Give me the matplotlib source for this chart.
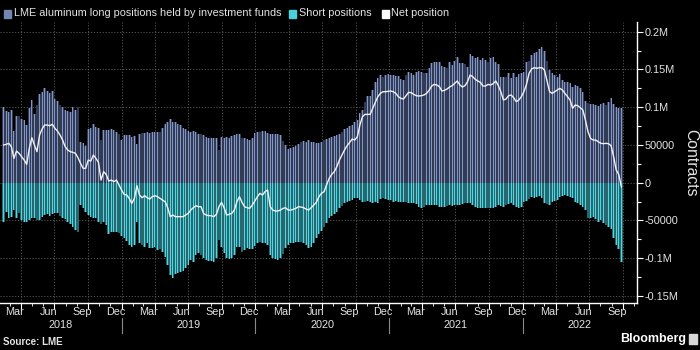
import numpy as np
import pandas as pd
import matplotlib
matplotlib.use("Agg")
import matplotlib.pyplot as plt
import matplotlib.dates as mdates
from matplotlib import font_manager as fm
from matplotlib.patches import Rectangle
from matplotlib.transforms import blended_transform_factory

# ---------------- data (thousands of contracts, weekly) ----------------
long_k = [
    100.7, 94.9, 93.2, 95.8, 68.4, 88.7, 88.3, 83.9, 83.0, 76.4,
    99.3, 109.5, 90.5, 102.9, 117.0, 120.5, 124.9, 121.4, 118.3, 121.4,
    110.8, 108.2, 102.9, 100.7, 96.2, 94.9, 94.0, 99.8, 96.2, 100.7,
    54.3, 52.1, 49.0, 71.1, 72.8, 78.1, 74.2, 72.0, 56.5, 69.8,
    69.8, 69.8, 71.1, 69.8, 67.5, 64.0, 56.5, 63.1, 63.1, 63.1,
    60.9, 62.3, 50.8, 64.0, 65.3, 66.2, 66.7, 65.3, 66.7, 66.7,
    67.5, 66.7, 72.8, 77.3, 80.8, 83.9, 80.8, 79.9, 77.3, 76.4,
    72.0, 71.1, 68.4, 67.5, 68.4, 67.5, 64.0, 64.0, 63.1, 60.5,
    58.7, 59.6, 59.6, 59.6, 43.3, 60.9, 59.6, 60.9, 59.6, 62.3,
    63.1, 64.0, 64.0, 59.6, 58.7, 57.8, 56.5, 58.7,
    65.3, 66.7, 67.5, 68.4, 68.4, 65.3, 64.0, 64.9, 64.9, 64.0,
    63.1, 55.2, 49.9, 44.6, 45.5, 47.2, 49.0, 51.7, 54.3, 55.2,
    54.3, 56.5, 54.3, 53.4, 52.1, 52.5, 53.4, 56.1, 57.8, 59.6,
    60.9, 62.3, 63.1, 64.0, 67.5, 71.1, 72.8, 74.6, 76.4, 79.9,
    83.0, 91.8, 96.2, 107.3, 114.3, 115.2, 122.7, 133.8,
    138.2, 142.6, 140.4, 142.6, 143.5, 142.6, 142.6, 141.7, 141.7, 137.3,
    136.0, 142.6, 147.0, 144.8, 142.6, 147.0, 147.9, 146.1, 144.8, 144.8,
    151.4, 158.1, 159.4, 160.3, 160.3, 155.0, 153.6, 151.4, 159.4, 155.8,
    161.1, 166.9, 158.1, 158.1, 156.7, 153.6, 170.4, 168.2, 164.7, 166.9,
    162.5, 164.7, 162.5, 160.3, 164.7, 166.9, 160.3, 156.7,
    140.4, 140.4, 140.4, 144.8, 138.2, 144.8, 140.4, 143.5, 144.8, 147.0,
    160.3, 161.1, 169.1, 171.3, 173.5, 177.0, 180.1, 174.4, 161.1, 149.2,
    144.8, 142.6, 140.4, 143.5, 136.0, 133.8, 133.8, 131.6, 127.2, 129.4,
    128.5, 124.9, 120.5, 108.2, 105.1, 103.8, 103.8, 102.9, 102.0, 103.8,
    105.1, 102.9, 106.4, 111.7, 103.8, 100.7, 98.5, 98.5,
]

short_k = [
    -51.7, -38.4, -46.4, -45.0, -36.2, -46.4, -40.6, -49.4, -52.5, -51.7,
    -49.4, -47.2, -46.4, -49.4, -49.4, -45.0, -42.8, -41.9, -43.7, -41.9,
    -39.7, -40.6, -43.7, -46.4, -48.1, -51.7, -54.7, -58.3, -62.7, -64.9,
    -29.6, -33.1, -38.4, -42.8, -45.0, -47.2, -46.4, -51.7, -55.2, -51.7,
    -56.1, -68.5, -64.9, -65.8, -65.8, -67.1, -70.2, -73.7, -77.3, -82.6,
    -84.8, -82.0, -51.7, -80.4, -82.6, -84.8, -80.4, -87.0, -87.0, -84.8,
    -89.2, -87.9, -91.4, -98.0, -109.1, -122.3, -126.7, -121.4, -120.1, -117.9,
    -117.0, -113.5, -109.1, -102.4, -105.5, -95.8, -93.6, -95.8, -100.2, -102.4,
    -103.8, -103.8, -105.5, -100.2, -76.0, -85.0, -93.6, -100.2, -101.1, -100.2,
    -95.8, -84.8, -84.8, -91.4, -89.2, -87.0, -87.9, -87.9,
    -83.4, -80.4, -78.1, -80.4, -80.4, -82.6, -95.8, -100.2, -101.1, -102.4,
    -100.2, -94.9, -87.0, -82.6, -80.4, -80.4, -78.1, -78.1, -78.1, -80.4,
    -82.6, -86.1, -84.8, -80.4, -73.7, -68.4, -64.0, -58.3, -53.9, -46.4,
    -43.7, -41.9, -38.4, -34.0, -30.5, -27.4, -25.2, -24.3, -23.0, -20.8,
    -20.8, -23.0, -26.0, -25.2, -24.3, -25.2, -27.4, -25.2,
    -27.4, -21.6, -20.8, -21.6, -23.0, -23.0, -25.2, -24.3, -25.2, -26.0,
    -25.2, -25.2, -27.4, -27.4, -27.4, -28.7, -31.8, -33.1, -31.8, -29.6,
    -29.6, -29.6, -29.6, -29.6, -31.8, -31.8, -31.8, -30.5, -29.6, -30.5,
    -29.6, -29.6, -29.6, -28.7, -27.4, -27.4, -27.4, -29.6, -31.8, -33.1,
    -33.1, -34.0, -34.0, -34.0, -34.0, -33.1, -31.8, -29.6,
    -30.5, -31.8, -29.6, -28.7, -27.4, -29.6, -31.8, -33.1, -31.8, -26.0,
    -24.3, -21.6, -18.5, -20.8, -18.5, -17.2, -20.8, -27.4, -28.7, -29.6,
    -25.2, -24.3, -23.0, -18.5, -17.2, -16.3, -17.2, -18.5, -20.8, -25.2,
    -27.4, -29.6, -31.8, -36.2, -47.2, -46.4, -45.0, -48.1, -51.7, -49.4,
    -53.9, -56.1, -58.3, -61.4, -73.7, -82.6, -87.9, -105.5,
]

net_k = [
    49.9, 50.8, 52.1, 47.7, 32.2, 41.9, 38.9, 34.4, 30.0, 24.3,
    45.5, 59.6, 49.9, 41.1, 63.1, 71.1, 76.4, 76.4, 75.5, 77.3,
    72.0, 68.4, 63.1, 56.5, 47.7, 43.3, 41.1, 40.2, 38.9, 33.1,
    25.6, 19.0, 19.0, 30.0, 28.7, 36.6, 32.2, 26.9, 3.5, 14.6,
    11.0, 2.2, 3.5, 1.3, 3.5, -3.1, -9.7, -15.5, -16.3, -20.8,
    -27.4, -20.8, -4.0, -16.3, -19.9, -17.2, -19.9, -21.6, -18.5, -17.2,
    -18.5, -20.8, -23.0, -25.2, -33.1, -45.0, -42.8, -45.0, -45.0, -45.0,
    -45.0, -42.8, -40.6, -36.2, -33.1, -30.5, -31.8, -31.8, -40.6, -42.8,
    -43.7, -43.7, -45.0, -41.9, -31.8, -26.0, -33.1, -42.8, -41.9, -40.6,
    -36.2, -25.2, -18.5, -26.0, -31.8, -33.1, -34.0, -29.6,
    -24.3, -18.5, -14.1, -16.3, -11.9, -9.7, -31.8, -36.2, -37.5, -37.5,
    -36.2, -34.0, -33.1, -36.2, -36.2, -35.3, -34.0, -31.8, -32.2, -33.1,
    -34.9, -36.2, -33.1, -29.6, -26.0, -18.5, -14.1, -11.9, -3.1, 5.7,
    11.0, 14.6, 21.2, 30.0, 36.6, 43.3, 49.0, 53.4, 57.8, 56.5,
    60.9, 76.4, 87.4, 90.5, 90.5, 90.5, 98.5, 106.4,
    113.9, 118.3, 120.5, 120.5, 121.0, 121.4, 120.5, 118.3, 113.9, 111.7,
    110.8, 115.2, 119.6, 119.2, 117.0, 115.2, 114.8, 115.2, 116.1, 118.3,
    122.3, 128.0, 130.2, 129.4, 127.2, 121.4, 122.3, 124.1, 126.7, 128.5,
    131.6, 134.7, 129.4, 126.7, 128.5, 133.8, 142.6, 140.4, 136.9, 134.7,
    132.9, 128.0, 128.0, 130.2, 129.4, 131.1, 134.7, 128.5,
    120.5, 109.5, 110.8, 115.2, 116.1, 112.6, 107.3, 109.5, 113.9, 120.5,
    130.2, 144.8, 150.6, 152.3, 151.4, 152.3, 152.3, 149.2, 134.7, 120.5,
    118.3, 120.5, 122.7, 124.9, 122.7, 118.3, 113.9, 109.5, 98.5, 102.9,
    102.0, 99.3, 96.2, 83.0, 67.5, 58.7, 56.5, 56.5, 54.3, 52.1,
    51.7, 52.1, 51.7, 49.0, 34.4, 16.8, 11.0, -5.3,
]

last_date = "2022-09-27"
tick_values = [-150000, -100000, -50000, 0, 50000, 100000, 150000, 200000]
tick_labels = ["-0.15M", "-0.1M", "-50000", "0", "50000", "0.1M", "0.15M", "0.2M"]
month_names = {3: "Mar", 6: "Jun", 9: "Sep", 12: "Dec"}
years = [2018, 2019, 2020, 2021, 2022]
legend_labels = ["LME aluminum long positions held by investment funds",
                 "Short positions", "Net position"]

# ---------------- fonts ----------------
avail = {f.name for f in fm.fontManager.ttflist}
if "Liberation Sans Narrow" in avail:
    FONT = ["Liberation Sans Narrow", "DejaVu Sans"]
    FS = 9.3
else:
    FONT = ["Liberation Sans", "DejaVu Sans"]
    FS = 7.8
plt.rcParams["font.family"] = FONT

TXT = "#e4e4e4"
LONG_BRIGHT = "#8395c4"
LONG_DARK = "#323b54"
SHORT_BRIGHT = "#52d6e2"
SHORT_DARK = "#276870"
LEG_LONG = "#7286b0"
LEG_SHORT = "#4ccfdc"

long_v = np.array(long_k) * 1000
short_v = np.array(short_k) * 1000
net_v = np.array(net_k) * 1000
dates = pd.date_range(end=last_date, periods=len(long_k), freq="7D")

W, H = 700, 350
fig = plt.figure(figsize=(W / 100, H / 100), dpi=100, facecolor="black")
ax_left, ax_right, ax_top, ax_bot = 0, 636.7, 22, 303
ax = fig.add_axes([ax_left / W, 1 - ax_bot / H, (ax_right - ax_left) / W, (ax_bot - ax_top) / H])
ax.set_facecolor("black")

x0 = pd.Timestamp("2018-02-03")
x1 = pd.Timestamp("2022-11-08")
ax.set_xlim(x0, x1)
ax.set_ylim(-159300, 212800)

# grid
for v in tick_values:
    ax.axhline(v, color="#5e5e5e", lw=0.6, ls=(0, (1.5, 2)), zorder=0)
for q in pd.date_range("2018-04-01", "2022-10-01", freq="QS"):
    ax.axvline(q, color="#5e5e5e", lw=0.6, ls=(0, (1.5, 2)), zorder=0)

# bars
ax.bar(dates, long_v, width=7, color=LONG_DARK, linewidth=0, zorder=1)
ax.bar(dates, short_v, width=7, color=SHORT_DARK, linewidth=0, zorder=1)
ax.bar(dates, long_v, width=2.4, color=LONG_BRIGHT, linewidth=0, zorder=2)
ax.bar(dates, short_v, width=2.4, color=SHORT_BRIGHT, linewidth=0, zorder=2)
ax.plot(dates, net_v, color="#f2f2f2", lw=1.0, zorder=3)

# axes styling
for s in ["top", "left"]:
    ax.spines[s].set_visible(False)
ax.spines["right"].set_color("white")
ax.spines["bottom"].set_color("white")
ax.spines["right"].set_linewidth(1.0)
ax.spines["bottom"].set_linewidth(1.0)
ax.yaxis.tick_right()
ax.set_yticks(tick_values)
ax.set_yticklabels(tick_labels)
ax.set_yticks([v + 25000 for v in tick_values[:-1]], minor=True)
ax.tick_params(axis="y", which="both", colors="white", labelcolor=TXT, labelsize=FS,
               length=4, width=0.8, pad=1.5, direction="out")
ax.tick_params(axis="y", which="minor", length=3)

ax.xaxis.set_major_locator(mdates.MonthLocator(bymonth=[1, 4, 7, 10]))
ax.xaxis.set_minor_locator(mdates.MonthLocator())
ax.tick_params(axis="x", which="both", colors="white", labelbottom=False, direction="out")
ax.tick_params(axis="x", which="major", length=4, width=0.8)
ax.tick_params(axis="x", which="minor", length=2.5, width=0.6)

trans = blended_transform_factory(ax.transData, fig.transFigure)
# month labels at mid-month
for d in pd.date_range("2018-03-01", "2022-09-01", freq="MS"):
    if d.month in month_names:
        mid = d + pd.Timedelta(days=14)
        ax.text(mid, 1 - 312 / H, month_names[d.month], transform=trans, ha="center",
                va="center", color=TXT, fontsize=FS, clip_on=False)
# year labels and separators
for y in years:
    a = max(pd.Timestamp(f"{y}-01-01"), x0)
    b = min(pd.Timestamp(f"{y + 1}-01-01"), x1)
    ax.text(a + (b - a) / 2, 1 - 325 / H, str(y), transform=trans, ha="center",
            va="center", color=TXT, fontsize=FS, clip_on=False)
    if y > years[0]:
        ax.plot([pd.Timestamp(f"{y}-01-01")] * 2, [1 - 318 / H, 1 - 333 / H],
                transform=trans, color="#8a8a8a", lw=0.8, clip_on=False)

fig.text(691 / W, 1 - 163 / H, "Contracts", rotation=270, ha="center", va="center",
         color=TXT, fontsize=FS + 3.5)

# legend
leg_items = [(4, 13.5, LEG_LONG, legend_labels[0]),
             (289, 299, LEG_SHORT, legend_labels[1]),
             (382, 391, "white", legend_labels[2])]
for sx, tx, col, lab in leg_items:
    fig.patches.append(Rectangle((sx / W, 1 - 17.5 / H), 7 / W, 7 / H, color=col,
                                 transform=fig.transFigure, figure=fig))
    fig.text(tx / W, 1 - 13.5 / H, lab, ha="left", va="center", color=TXT, fontsize=FS)

fig.text(3 / W, 1 - 342 / H, "Source: LME", ha="left", va="center", color=TXT,
         fontsize=FS - 0.8, fontweight="bold")
fig.text(686 / W, 1 - 339 / H, "Bloomberg", ha="right", va="center", color="white",
         fontsize=FS + 1.2, fontweight="bold")
fig.patches.append(Rectangle((689 / W, 1 - 344 / H), 8 / W, 10 / H, color="#d8d8d8",
                             transform=fig.transFigure, figure=fig))

fig.savefig("out.png", dpi=100, facecolor="black")
